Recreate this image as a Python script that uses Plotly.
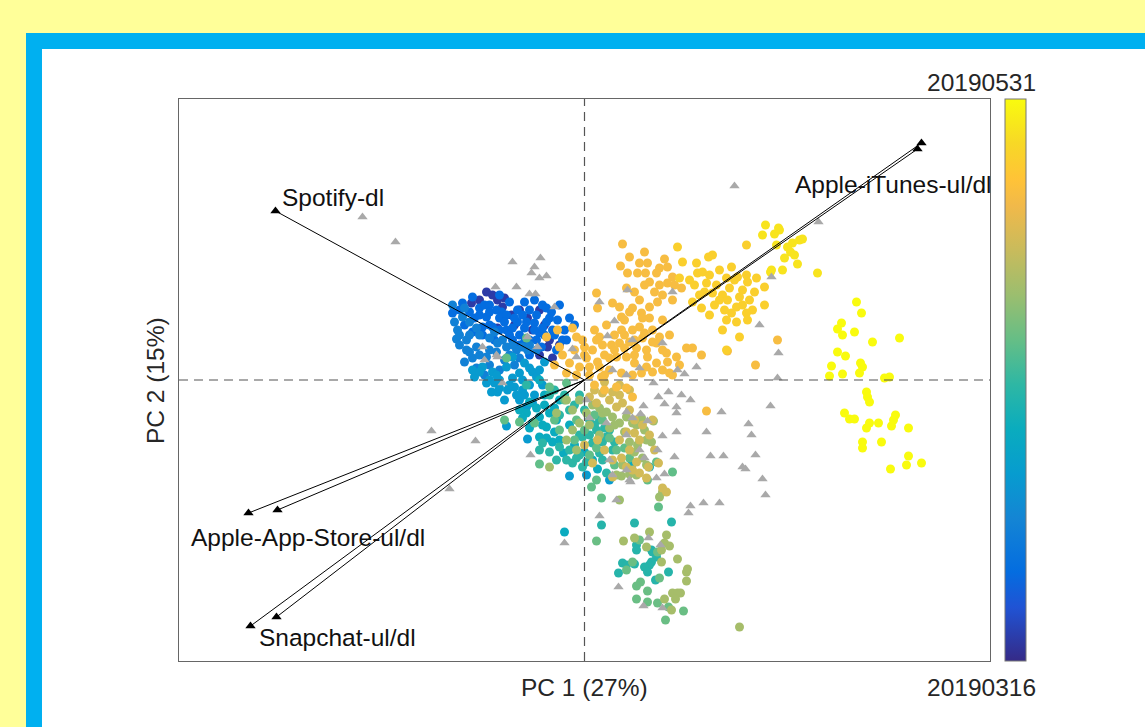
import plotly.graph_objects as go

# ---------------- data (PC scores, coloured by capture date) ----------------
DATE_TOP, DATE_BOTTOM = "20190531", "20190316"
DAY_MIN, DAY_MAX = 0, 76          # days after 2019-03-16

purple_x = [-0.98,-0.92,-0.87,-1.13,-0.82,-0.73,-0.65,-0.57,-0.45,-0.37,-0.32,-0.45,-0.35,-0.87,-0.80,-1.05,-0.70,-0.52,-0.25,-0.40]
purple_y = [0.88,0.85,0.80,0.77,0.73,0.65,0.70,0.62,0.70,0.33,0.22,0.25,0.40,0.52,0.82,0.80,0.55,0.50,0.35,0.55]
purple_day = 3

blue_x = [-1.12,-1.05,-0.98,-0.83,-0.67,-0.60,-0.50,-0.45,-0.38,-0.55,-0.72,-0.78,-0.92,-1.02,-0.48,-0.42,-0.27,-0.32,-0.43,-0.28,-1.22,-1.32,-0.67,-0.55,-0.38,-0.95,-0.85,-0.75,-0.65,-0.55,-0.90,-1.10,-0.20,-0.25]
blue_y = [0.83,0.72,0.63,0.68,0.58,0.52,0.57,0.47,0.58,0.40,0.40,0.50,0.53,0.53,0.65,0.75,0.60,0.50,0.33,0.30,0.77,0.67,0.70,0.70,0.72,0.75,0.62,0.45,0.35,0.25,0.40,0.62,0.50,0.75]
blue2_x = [-1.25,-1.15,-1.05,-0.95,-0.88,-0.78,-0.70,-0.62,-0.58,-0.50,-0.40,-0.35,-0.30,-0.22,-1.20,-1.12,-1.02,-0.95,-0.85,-0.80,-0.72,-0.65,-0.60,-0.48,-0.42,-1.00,-0.75,-0.60,-0.50,-0.85,-0.33,-0.15,-0.18,-0.10]
blue2_y = [0.70,0.68,0.65,0.68,0.70,0.65,0.62,0.65,0.58,0.50,0.45,0.62,0.45,0.40,0.55,0.48,0.45,0.55,0.50,0.58,0.52,0.45,0.38,0.40,0.52,0.75,0.78,0.78,0.80,0.85,0.68,0.62,0.40,0.55]
blue_day = 12

midblue_x = [-1.32,-1.22,-1.27,-1.28,-1.18,-1.08,-1.15,-1.20,-1.08,-0.87,-0.95,-0.78,-0.68,-0.57,-0.98,-1.12,-1.00,-1.18,-0.80,-0.70,-1.05]
midblue_y = [0.75,0.63,0.50,0.41,0.40,0.33,0.58,0.72,0.52,0.37,0.42,0.33,0.30,0.30,0.23,0.22,0.05,0.30,0.20,0.15,0.45]
midblue2_x = [-1.25,-1.15,-1.05,-0.95,-0.88,-0.82,-0.72,-0.62,-0.55,-0.48,-1.20,-1.08,-0.95,-0.85,-0.75,-0.65,-1.30,-1.25,-1.15,-0.90]
midblue2_y = [0.35,0.28,0.25,0.30,0.28,0.40,0.35,0.33,0.35,0.30,0.18,0.12,0.15,0.10,0.25,0.22,0.58,0.45,0.45,0.48]
midblue_day = 18

lightblue_x = [-1.02,-0.92,-1.10,-0.85,-0.78,-0.72,-0.60,-0.65,-0.52,-0.98,-0.93,-0.87,-0.77,-0.70,-0.62,-0.55,-0.48,-0.80,-0.65,-0.58,-0.52,-1.12,-0.90,-0.78,-0.57,-0.15,0.02,0.25,
               -1.05,-0.95,-0.88,-0.72,-0.62,-0.55,-0.45,-0.42,-0.75,-0.68,-0.60,-0.85,-0.50,-0.40]
lightblue_y = [0.13,0.08,0.03,0.00,0.13,0.23,0.17,0.07,0.08,-0.03,-0.12,-0.12,-0.10,-0.07,-0.10,-0.05,0.03,-0.20,-0.20,-0.27,-0.23,0.10,-0.03,-0.46,-0.59,-0.96,-0.95,-1.00,
               0.08,0.00,0.05,0.02,0.00,0.12,0.10,-0.05,-0.05,-0.15,-0.15,-0.08,-0.15,0.18]
lightblue_day = 25

cyan_x = [-0.65,-0.58,-0.45,-0.35,-0.52,-0.38,-0.28,-0.45,-0.32,-0.21,0.13,0.47,0.65,-0.40,-0.25,-0.20,-0.45,
          -0.55,-0.48,-0.40,-0.30,-0.62,-0.55,-0.42,-0.30,-0.38,-0.25,-0.15,-0.10,0.00,0.08]
cyan_y = [-0.30,-0.33,-0.37,-0.33,-0.43,-0.47,-0.40,-0.57,-0.62,-0.73,-0.89,-0.85,-0.87,-0.15,-0.20,-1.52,0.00,
          -0.22,-0.28,-0.25,-0.28,-0.38,-0.48,-0.45,-0.52,-0.58,-0.60,-0.45,-0.65,-0.72,-0.80]
cyan_day = 31

teal_x = [-0.25,-0.45,-0.35,-0.42,-0.28,-0.18,-0.05,-0.12,-0.02,0.22,-0.02,0.08,0.22,0.15,0.28,0.12,0.25,0.05,0.15,-0.58,-0.35,-0.15,-0.05,
          -0.30,-0.20,-0.10,0.00,-0.25,-0.05,0.05,0.18,0.10,0.20,-0.15,-0.08,0.02,0.18,0.30]
teal_y = [-0.67,-0.70,-0.72,-0.63,-0.80,-0.80,-0.75,-0.83,-0.87,-0.93,-0.57,-0.63,-0.57,-0.73,-0.70,-0.50,-0.50,-0.40,-0.40,-0.05,-0.15,-0.30,-0.15,
          -0.10,-0.15,-0.25,-0.30,-0.35,-0.55,-0.55,-0.62,-0.45,-0.48,-0.70,-0.78,-0.82,-0.80,-0.62]
teal_day = 37

green_x = [-0.80,-0.65,-0.50,-0.45,0.07,0.17,0.74,0.72,0.88,0.63,0.12,-0.58,-0.78,-0.35,-0.18,-0.25,-0.10,0.05,
           -0.20,-0.08,0.00,0.10,0.18,0.25,0.32,0.12,-0.30,0.40,0.45,0.30]
green_y = [-0.40,-0.42,-0.43,-0.84,-1.07,-1.18,-1.27,-0.82,-0.92,-1.00,-1.00,0.42,0.22,-0.07,-0.03,-0.50,-0.60,-0.75,
           -0.20,-0.40,-0.50,-0.35,-0.40,-0.58,-0.70,-0.68,-0.40,-0.68,-0.78,-0.85]
green_day = 43

olive_x = [-0.35,-0.28,-0.18,-0.12,-0.05,0.18,0.28,0.35,0.42,0.48,-0.08,-0.18,-0.12,-0.05,0.02,0.35,0.52,0.45,0.37,0.32,0.67,0.62,0.53,0.52,0.57,0.69,0.75,0.78,
           0.08,0.15,0.22,0.30,0.40,0.45,0.50,0.38,0.58,0.62,0.05,0.15,0.25,0.60]
olive_y = [-0.87,-0.33,-0.20,-0.30,-0.20,-0.33,-0.37,-0.43,-0.37,-0.43,-0.70,-0.60,-0.50,-0.43,-0.33,-1.20,-0.95,-0.94,-0.96,-0.95,-0.62,-0.60,-0.65,-0.45,-0.38,-0.41,-1.17,-1.12,
           -0.25,-0.28,-0.32,-0.45,-0.52,-0.62,-0.72,-0.85,-0.78,-0.85,-0.45,-0.55,-0.48,-0.50]
olive_day = 50

khaki_x = [0.05,0.12,0.18,0.25,0.32,0.38,0.42,0.50,0.55,0.35,0.28,0.37,0.42,0.48,0.55,0.28,0.08,0.64,0.74,0.78,0.82,0.68,0.13,0.20,0.00,
           0.10,0.20,0.28,0.35,0.45,0.50,0.58,0.65,0.70,0.45,0.52,0.62,0.35,0.45]
khaki_y = [-0.17,-0.23,-0.13,-0.20,-0.27,-0.23,-0.52,-0.53,-0.60,-0.60,-0.80,-0.78,-0.87,-0.90,-0.93,-0.97,-0.83,-0.87,-0.83,-1.08,-1.12,-0.40,-0.60,-0.70,-0.65,
           -0.10,-0.02,-0.12,-0.15,-0.30,-0.40,-0.45,-0.55,-0.70,-0.70,-0.82,-0.98,-0.05,-0.10]
khaki_day = 57

lowteal_x = [0.17,0.50,0.87,0.52,0.52,0.67,0.68,0.72,0.67,0.65,0.38,0.42,0.50,0.60,0.34,0.63,0.84,0.71]
lowteal_y = [-1.45,-1.43,-1.42,-1.65,-1.70,-1.70,-1.72,-1.77,-1.82,-1.85,-1.83,-1.85,-1.84,-1.87,-1.93,-1.92,-1.92,-2.00]
lowteal_day = 36

lowgreen_x = [0.12,0.55,0.73,0.48,0.42,0.75,0.56,0.52,0.63,0.52,0.63,0.73,0.84,0.99,0.81]
lowgreen_y = [-1.61,-1.60,-1.72,-1.82,-1.90,-1.98,-2.02,-2.06,-2.11,-2.19,-2.22,-2.23,-2.27,-2.31,-2.40]
lowgreen_day = 44

lowolive_x = [0.39,0.65,0.82,0.50,0.62,0.77,0.80,0.85,0.77,0.93,1.03,1.02,1.02,0.88,0.93,0.96,0.91,0.80,0.87,1.55]
lowolive_y = [-1.61,-1.52,-1.55,-1.58,-1.67,-1.70,-1.63,-1.66,-1.82,-1.79,-1.89,-1.92,-2.01,-2.13,-2.13,-2.13,-2.19,-2.19,-2.30,-2.47]
lowolive_day = 51

orange_x = [0.38,0.60,0.45,0.55,0.63,0.36,0.80,0.75,0.83,0.43,
            0.53,0.61,0.72,0.88,0.65,0.75,0.83,0.90,0.97,0.88,
            0.78,0.73,0.65,0.57,0.48,0.35,0.45,0.58,0.55,0.48,
            0.37,0.60,0.68,0.75,0.72,0.85,0.78,0.45,0.35,0.27,
            0.40,0.52,0.62,0.82,0.63,0.50,0.42,0.32,0.18,0.12,
            0.08,0.20,0.25,0.02,0.13,0.50,0.62,0.72,0.83,0.92,
            1.02,1.08,1.17,0.95,0.78,0.68,0.85,0.57,0.48,0.37,
            0.25,0.15,0.05,0.12,-0.02,-0.27,-0.12,-0.08,0.13,0.28,
            0.37,0.15,0.00,-0.22,-0.15,-0.05,-0.18,-0.08,0.17,-0.38,
            -0.30,-0.25,0.32,0.42,0.48,0.88,1.22,1.43,1.71,1.93,
            0.10,0.20,
            0.05,0.00,-0.10,0.10,0.22,0.30,0.40,0.50,0.58,0.65,
            0.70,0.50,0.60,0.42,0.55,0.40,0.68,0.78,0.30,0.20]
orange_y = [1.36,1.28,1.23,1.17,1.17,1.14,1.21,1.12,1.13,1.07,
            1.07,1.07,1.07,1.03,0.98,0.95,0.97,0.95,0.92,0.80,
            0.85,0.78,0.73,0.67,0.72,0.73,0.68,0.62,0.53,0.50,
            0.50,0.47,0.50,0.43,0.37,0.45,0.60,0.38,0.37,0.35,
            0.32,0.32,0.30,0.27,0.23,0.25,0.23,0.23,0.35,0.40,
            0.30,0.25,0.22,0.22,0.18,0.17,0.13,0.17,0.18,0.23,
            0.32,0.32,0.25,0.15,0.10,0.08,0.07,0.07,0.05,0.07,
            0.10,0.13,0.13,0.87,0.40,0.50,0.52,0.43,0.72,0.77,
            0.63,0.43,0.33,0.25,0.17,0.13,0.07,0.05,0.03,0.43,
            0.15,0.33,-0.07,-0.08,-0.17,0.05,-0.31,0.29,0.15,0.40,
            -0.05,-0.10,
            0.05,0.25,0.30,0.50,0.55,0.45,0.45,0.40,0.42,0.62,
            0.88,0.88,0.95,0.92,0.80,0.60,0.38,0.30,0.30,0.05]
orange_day = 63

gold_x = [0.93,0.98,1.12,1.24,1.28,0.95,1.05,1.13,1.18,1.35,
          1.47,1.62,1.53,1.62,1.63,1.72,1.80,1.42,1.32,1.22,
          1.28,1.38,1.43,1.35,1.55,1.58,1.65,1.68,1.52,1.47,
          1.42,1.52,1.62,1.63,1.80,1.15,1.08,1.17,1.25,1.38,
          1.55,1.42,
          1.20,1.30,1.45,1.50,1.58,1.40,1.70,1.25,1.10]
gold_y = [1.33,1.18,1.17,1.23,1.25,1.02,1.00,1.07,1.08,1.10,
          1.13,1.35,1.03,1.05,0.98,1.02,0.93,1.02,0.95,0.97,
          0.87,0.85,0.80,0.80,0.83,0.90,0.80,0.70,0.73,0.67,
          0.60,0.58,0.67,0.60,0.75,0.85,0.78,0.72,0.65,0.50,
          0.43,0.30,
          0.88,0.75,0.92,1.00,0.75,0.70,0.88,1.05,0.95]
gold_day = 68

yellowgold_x = [1.78,1.90,1.95,2.08,2.15,2.03,1.92,2.00,2.13,1.87,1.98,2.33,1.81,1.94,2.18,2.06,2.10,1.86]
yellowgold_y = [1.45,1.46,1.50,1.37,1.40,1.33,1.35,1.22,1.16,1.10,1.10,1.07,1.55,1.52,1.41,1.28,1.25,1.08]
yellowgold_day = 72

yellow_x = [2.72,2.77,2.57,2.53,2.70,2.58,2.88,3.15,2.53,2.61,
            2.76,2.78,2.47,2.58,2.45,2.75,3.00,3.05,2.82,2.83,
            2.85,2.60,2.65,2.70,2.85,2.82,2.94,3.11,3.09,3.07,
            3.24,2.78,2.78,2.97,3.24,3.22,3.37,3.06]
yellow_y = [0.78,0.67,0.57,0.51,0.48,0.45,0.38,0.42,0.28,0.24,
            0.17,0.13,0.14,0.06,0.04,0.07,0.02,0.03,-0.12,-0.17,
            -0.22,-0.33,-0.39,-0.39,-0.43,-0.48,-0.43,-0.35,-0.40,-0.46,
            -0.48,-0.62,-0.68,-0.62,-0.76,-0.85,-0.83,-0.89]
yellow_day = 76

# samples without a date (grey triangles)
nodate_x = [-2.22,-1.89,-0.72,-0.44,-0.50,-0.53,-0.45,-0.38,-0.89,-0.68,
            -0.55,-0.49,-0.30,-1.00,-0.88,-0.57,-0.47,-0.82,0.15,0.43,
            0.30,-0.12,-0.08,0.23,0.28,0.42,1.50,2.34,1.87,1.75,
            1.94,1.93,0.88,0.48,0.78,0.55,0.69,0.93,1.00,1.12,
            0.74,0.84,0.97,1.06,0.59,0.80,0.92,0.92,0.42,0.56,
            0.48,0.63,1.37,1.86,1.64,1.67,1.22,0.92,0.78,0.73,
            0.60,0.90,1.26,1.39,1.71,1.58,1.61,0.80,0.72,0.46,
            1.78,1.81,0.32,1.06,1.19,1.35,1.04,0.15,0.64,0.76,
            0.34,0.59,0.78,0.05,0.22,0.02,0.42,0.55,0.25,0.42,
            0.28,0.45,-1.53,-1.09,-0.54,-1.35,-0.20,-1.02,-0.87]
nodate_y = [1.63,1.38,1.18,1.22,1.13,1.07,1.02,1.04,0.93,0.93,
            0.86,0.86,0.73,0.20,0.25,0.43,0.33,-0.03,0.78,0.90,
            0.59,0.31,0.23,0.44,0.10,0.05,1.94,1.58,1.03,0.55,
            0.27,0.02,0.88,0.40,0.37,0.12,-0.03,0.10,0.06,0.13,
            -0.17,-0.12,-0.15,-0.20,-0.26,-0.24,-0.27,-0.33,-0.32,-0.34,
            -0.38,-0.41,-0.32,-0.26,-0.44,-0.55,-0.52,-0.52,-0.56,-0.70,
            -0.78,-0.77,-0.76,-0.76,-0.75,-0.87,-0.89,-0.94,-0.98,-1.02,
            -0.99,-1.15,-1.20,-1.26,-1.23,-1.23,-1.33,-1.36,-1.58,-1.65,
            -2.07,-2.26,-2.28,-0.38,-0.43,-0.20,-0.55,-0.70,-0.80,-0.90,
            -0.95,-1.00,-0.51,-0.61,-0.75,-1.09,-1.63,0.33,0.23]

# loadings (biplot vectors)
loading_names = ["Spotify-dl", "Apple-iTunes-ul", "Apple-iTunes-dl",
                 "Apple-App-Store-ul", "Apple-App-Store-dl", "Snapchat-ul", "Snapchat-dl"]
loading_x = [-3.09, 3.37, 3.33, -3.36, -3.07, -3.34, -3.08]
loading_y = [1.69, 2.37, 2.31, -1.33, -1.30, -2.46, -2.37]

label_text = ["Spotify-dl", "Apple-iTunes-ul/dl", "Apple-App-Store-ul/dl", "Snapchat-ul/dl"]
label_x = [-3.045, 2.085, -3.955, -3.275]
label_y = [1.83, 1.96, -1.57, -2.57]

x_title, y_title = "PC 1 (27%)", "PC 2 (15%)"
X_LIM, Y_LIM = 4.055, 2.81

# ---------------- build ----------------
groups = [
    (purple_x, purple_y, purple_day),
    (blue_x, blue_y, blue_day), (blue2_x, blue2_y, blue_day),
    (midblue_x, midblue_y, midblue_day), (midblue2_x, midblue2_y, midblue_day),
    (lightblue_x, lightblue_y, lightblue_day),
    (cyan_x, cyan_y, cyan_day), (teal_x, teal_y, teal_day),
    (green_x, green_y, green_day), (olive_x, olive_y, olive_day),
    (khaki_x, khaki_y, khaki_day), (lowteal_x, lowteal_y, lowteal_day),
    (lowgreen_x, lowgreen_y, lowgreen_day), (lowolive_x, lowolive_y, lowolive_day),
    (orange_x, orange_y, orange_day), (gold_x, gold_y, gold_day),
    (yellowgold_x, yellowgold_y, yellowgold_day), (yellow_x, yellow_y, yellow_day),
]
all_x, all_y, all_day = [], [], []
for gx, gy, gd in groups:
    all_x += gx
    all_y += gy
    all_day += [gd] * len(gx)

parula = [
    [0.000, "#352a87"], [0.095, "#2053d4"], [0.159, "#046de0"],
    [0.254, "#1485d4"], [0.333, "#079ccf"], [0.413, "#0aacbe"],
    [0.492, "#2eb7a4"], [0.571, "#65be86"], [0.651, "#9bbe6f"],
    [0.730, "#c8bb5c"], [0.810, "#f1b94a"], [0.857, "#ffc337"],
    [0.921, "#f7d826"], [1.000, "#f9fb0e"],
]

fig = go.Figure()
fig.add_trace(go.Scatter(
    x=all_x, y=all_y, mode="markers", hoverinfo="skip",
    marker=dict(size=9, color=all_day, cmin=DAY_MIN, cmax=DAY_MAX,
                colorscale=parula, line=dict(width=0),
                colorbar=dict(x=1.0185, xanchor="left", xpad=0,
                              y=0.5, yanchor="middle", len=1, ypad=0,
                              thickness=21, outlinecolor="#777", outlinewidth=1,
                              showticklabels=False, ticks=""))))
fig.add_trace(go.Scatter(
    x=nodate_x, y=nodate_y, mode="markers", hoverinfo="skip",
    marker=dict(symbol="triangle-up", size=9, color="#a9a9a9", line=dict(width=0))))

for lx, ly in zip(loading_x, loading_y):
    fig.add_trace(go.Scatter(x=[0, lx], y=[0, ly], mode="lines",
                             line=dict(color="black", width=1), hoverinfo="skip"))
fig.add_trace(go.Scatter(x=loading_x, y=loading_y, mode="markers", hoverinfo="skip",
                         marker=dict(symbol="triangle-up", size=9, color="black")))

FONT = "Arial, Liberation Sans, sans-serif"
FS = 24.5
ann = []
for t, x, y in zip(label_text, label_x, label_y):
    ann.append(dict(x=x, y=y, xref="x", yref="y", text=t, showarrow=False,
                    xanchor="left", yanchor="middle",
                    font=dict(family=FONT, size=FS, color="#111")))
ann += [
    dict(x=0.5, y=-0.048, xref="paper", yref="paper", text=x_title, showarrow=False,
         xanchor="center", yanchor="middle", font=dict(family=FONT, size=FS, color="#262626")),
    dict(x=-0.0296, y=0.5, xref="paper", yref="paper", text=y_title, showarrow=False,
         textangle=-90, xanchor="center", yanchor="middle",
         font=dict(family=FONT, size=FS, color="#262626")),
    dict(x=0.989, y=1.030, xref="paper", yref="paper", text=DATE_TOP, showarrow=False,
         xanchor="center", yanchor="middle", font=dict(family=FONT, size=FS, color="#262626")),
    dict(x=0.989, y=-0.048, xref="paper", yref="paper", text=DATE_BOTTOM, showarrow=False,
         xanchor="center", yanchor="middle", font=dict(family=FONT, size=FS, color="#262626")),
]

shapes = [
    dict(type="rect", xref="paper", yref="paper", x0=-0.18866, x1=1.3, y0=-0.3, y1=1.11744,
         fillcolor="#00b0f0", line=dict(width=0), layer="below"),
    dict(type="rect", xref="paper", yref="paper", x0=-0.16893, x1=1.3, y0=-0.3, y1=1.08897,
         fillcolor="white", line=dict(width=0), layer="below"),
    dict(type="line", xref="x", yref="paper", x0=0, x1=0, y0=0, y1=1,
         line=dict(color="#555", width=1.2, dash="9px,6px"), layer="above"),
    dict(type="line", xref="paper", yref="y", x0=0, x1=1, y0=0, y1=0,
         line=dict(color="#555", width=1.2, dash="9px,6px"), layer="above"),
]

axis_common = dict(showgrid=False, zeroline=False, showticklabels=False, ticks="",
                   showline=True, mirror=True, linecolor="#666", linewidth=1)
fig.update_layout(
    width=1145, height=727,
    margin=dict(l=179, r=155, t=99, b=66),
    paper_bgcolor="#ffff99", plot_bgcolor="white",
    showlegend=False,
    xaxis=dict(range=[-X_LIM, X_LIM], **axis_common),
    yaxis=dict(range=[-Y_LIM, Y_LIM], **axis_common),
    annotations=ann, shapes=shapes,
)
fig.write_html("out.html", config={"displayModeBar": False},
               post_script="document.body.style.margin='0';document.body.style.padding='0';")
